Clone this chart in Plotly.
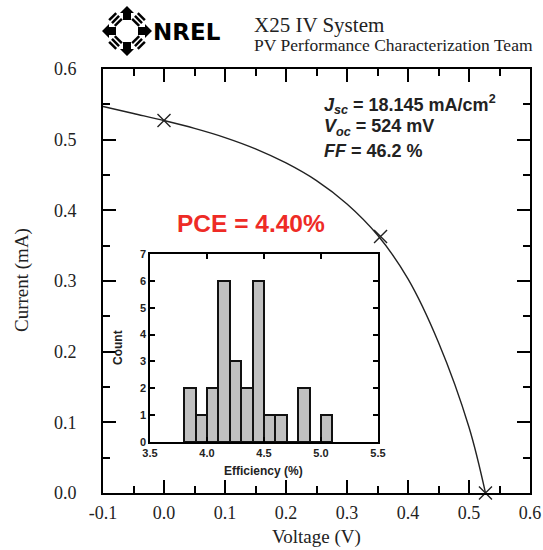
import math
import plotly.graph_objects as go

# ---------------- data ----------------
voltage = [-0.1, -0.05, 0.0, 0.05, 0.1, 0.15, 0.2, 0.25, 0.3, 0.35, 0.4, 0.45, 0.5, 0.527]
current = [0.547, 0.537, 0.527, 0.516, 0.503, 0.487, 0.467, 0.442, 0.409, 0.365, 0.303, 0.213, 0.093, 0.0]
marker_voltage = [0.0, 0.355, 0.527]
marker_current = [0.527, 0.363, 0.0]

eff_bin_centers = [3.85, 3.95, 4.05, 4.15, 4.25, 4.35, 4.45, 4.55, 4.65, 4.75, 4.85, 4.95, 5.05]
eff_counts = [2, 1, 2, 6, 3, 2, 6, 1, 1, 0, 2, 0, 1]

x_tick_vals = [-0.1, 0.0, 0.1, 0.2, 0.3, 0.4, 0.5, 0.6]
x_tick_text = ["-0.1", "0.0", "0.1", "0.2", "0.3", "0.4", "0.5", "0.6"]
x_minor_vals = [-0.05, 0.05, 0.15, 0.25, 0.35, 0.45, 0.55]
y_tick_vals = [0.0, 0.1, 0.2, 0.3, 0.4, 0.5, 0.6]
y_tick_text = ["0.0", "0.1", "0.2", "0.3", "0.4", "0.5", "0.6"]
y_minor_vals = [0.05, 0.15, 0.25, 0.35, 0.45, 0.55]

inset_x_vals = [3.5, 4.0, 4.5, 5.0, 5.5]
inset_x_text = ["3.5", "4.0", "4.5", "5.0", "5.5"]
inset_y_vals = [0, 1, 2, 3, 4, 5, 6, 7]

# ---------------- geometry helpers ----------------
# body margin is removed by post_script, so figure pixels == window pixels
OFF = 0
W, H = 543, 550
def px(x):
    return (x - OFF) / W
def py(y):
    return 1 - (y - OFF) / H

SERIF = "Liberation Serif"
SANS = "Liberation Sans"

fig = go.Figure()

fig.add_trace(go.Scatter(
    x=voltage, y=current, mode="lines",
    line=dict(color="#222222", width=1.4, shape="spline", smoothing=1.0),
    xaxis="x", yaxis="y", showlegend=False, hoverinfo="skip",
))
fig.add_trace(go.Scatter(
    x=marker_voltage, y=marker_current, mode="markers",
    marker=dict(symbol="x-thin", size=13, line=dict(color="#222222", width=1.4)),
    xaxis="x", yaxis="y", showlegend=False, cliponaxis=False,
))
fig.add_trace(go.Bar(
    x=eff_bin_centers, y=eff_counts, width=0.1,
    marker=dict(color="#c0c0c0", line=dict(color="#111111", width=2)),
    xaxis="x2", yaxis="y2", showlegend=False,
))

axis_common = dict(showgrid=False, zeroline=False, showline=True, linecolor="black",
                   ticks="inside", mirror="ticks", tickcolor="black")

fig.update_layout(
    width=W, height=H,
    margin=dict(l=0, r=0, t=0, b=0),
    paper_bgcolor="white", plot_bgcolor="rgba(0,0,0,0)",
    showlegend=False,
    xaxis=dict(**axis_common, domain=[px(103), px(530)], range=[-0.1, 0.6],
               linewidth=2, tickwidth=2, ticklen=13,
               tickmode="array", tickvals=x_tick_vals, ticktext=x_tick_text,
               minor=dict(tickmode="array", tickvals=x_minor_vals, ticks="inside",
                          ticklen=7, tickwidth=2, tickcolor="black"),
               tickfont=dict(family=SERIF, size=18, color="#222222"),
               ticklabelstandoff=2,
               automargin=False, anchor="y"),
    yaxis=dict(**axis_common, domain=[py(493), py(69)], range=[0, 0.6],
               linewidth=2, tickwidth=2, ticklen=13,
               tickmode="array", tickvals=y_tick_vals, ticktext=y_tick_text,
               minor=dict(tickmode="array", tickvals=y_minor_vals, ticks="inside",
                          ticklen=7, tickwidth=2, tickcolor="black"),
               tickfont=dict(family=SERIF, size=18, color="#222222"),
               ticklabelstandoff=21,
               automargin=False, anchor="x"),
    xaxis2=dict(**axis_common, domain=[px(150), px(378)], range=[3.5, 5.5],
                linewidth=1.5, tickwidth=1.5, ticklen=5,
                tickmode="array", tickvals=inset_x_vals, ticktext=inset_x_text,
                tickfont=dict(family=SANS, size=11, color="#222222", weight="bold"),
                automargin=False, anchor="y2"),
    yaxis2=dict(**axis_common, domain=[py(442), py(254)], range=[0, 7],
                linewidth=1.5, tickwidth=1.5, ticklen=5,
                tickmode="array", tickvals=inset_y_vals,
                tickfont=dict(family=SANS, size=11, color="#222222", weight="bold"),
                automargin=False, anchor="x2"),
    bargap=0,
)

ann = []
def text(x, y, s, size, family, xanchor="center", yanchor="middle", angle=0, color="#222222", weight="normal"):
    ann.append(dict(x=px(x), y=py(y), xref="paper", yref="paper", text=s, showarrow=False,
                    xanchor=xanchor, yanchor=yanchor, textangle=angle,
                    font=dict(family=family, size=size, color=color, weight=weight)))

# axis titles
text(316, 537, "Voltage (V)", 19, SERIF)
text(22, 280, "Current (mA)", 19, SERIF, angle=-90)
text(118, 348, "Count", 12, SANS, angle=-90, weight="bold")
text(263, 471, "Efficiency (%)", 12, SANS, weight="bold")

# parameter text
text(322, 104, "<i>J</i><sub><i>sc</i></sub> = 18.145 mA/cm<sup>2</sup>", 18, SANS, xanchor="left", weight="bold")
text(322, 128, "<i>V</i><sub><i>oc</i></sub> = 524 mV", 18, SANS, xanchor="left", weight="bold")
text(322, 151, "<i>FF</i> = 46.2 %", 18, SANS, xanchor="left", weight="bold")
text(251, 224, "PCE = 4.40%", 24.5, SANS, color="#ee2b26", weight="bold")

# header
text(252, 25, "X25 IV System", 21, SERIF, xanchor="left")
text(252, 45, "PV Performance Characterization Team", 17.5, SERIF, xanchor="left")
text(187, 32, "NREL", 23, "DejaVu Sans", weight="bold", color="black")

fig.update_layout(annotations=ann)

# NREL logo (decorative arrows)
shapes = []
cx, cy = 127, 31
def poly(points):
    d = "M " + " L ".join(f"{px(x):.5f} {py(y):.5f}" for x, y in points) + " Z"
    shapes.append(dict(type="path", path=d, xref="paper", yref="paper",
                       fillcolor="black", line=dict(width=0)))
def rot(points, ang):
    c, s = math.cos(ang), math.sin(ang)
    return [(cx + x * c - y * s, cy + x * s + y * c) for x, y in points]

arrow = [(0, -25), (-7, -18), (-4, -18), (-4, -11), (4, -11), (4, -18), (7, -18)]
for k in range(4):
    poly(rot(arrow, k * math.pi / 2))
for k in range(4):
    ang = math.pi / 4 + k * math.pi / 2
    for r0 in (11, 15, 19):
        bar = [(-5, -r0), (5, -r0), (5, -r0 - 2.5), (-5, -r0 - 2.5)]
        poly(rot(bar, ang))

fig.update_layout(shapes=shapes)

fig.write_html("out.html", config={"displayModeBar": False},
               post_script="document.body.style.margin='0px';")
